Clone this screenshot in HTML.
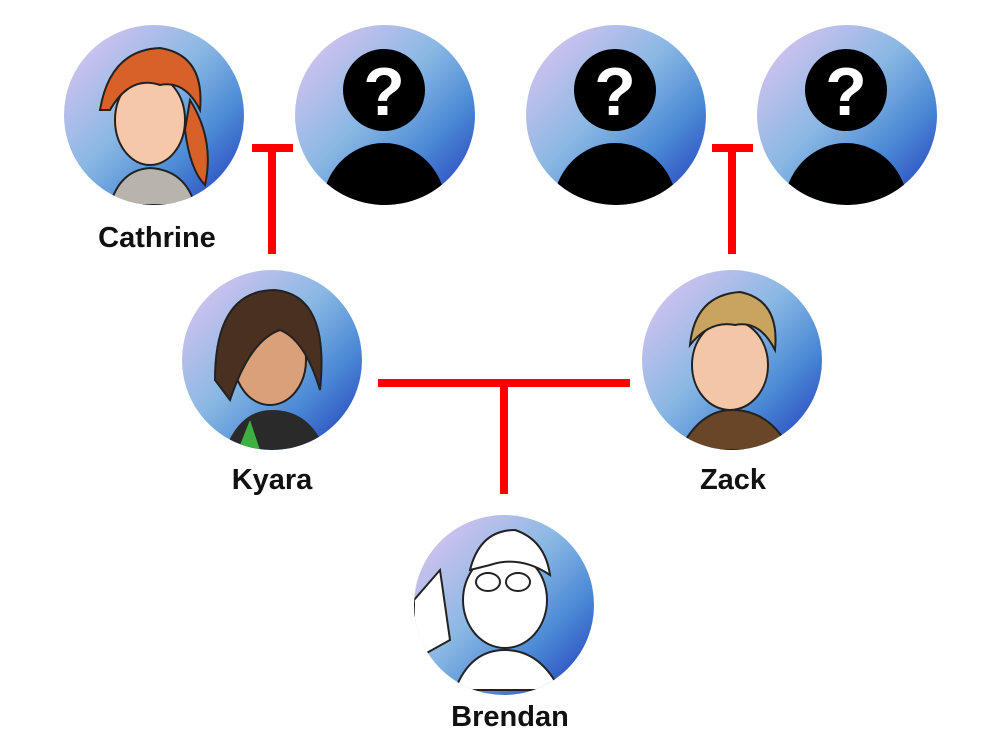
<!DOCTYPE html>
<html><head><style>
html,body{margin:0;padding:0;background:#fff;width:1000px;height:750px;overflow:hidden}
</style></head><body>
<svg width="1000" height="750" viewBox="0 0 1000 750" xmlns="http://www.w3.org/2000/svg">
<defs>
<linearGradient id="g" x1="0" y1="0" x2="1" y2="1">
<stop offset="0.05" stop-color="#dcc4f0"/>
<stop offset="0.45" stop-color="#8ab8e4"/>
<stop offset="0.7" stop-color="#4c8ad6"/>
<stop offset="1" stop-color="#1e36b8"/>
</linearGradient>
<clipPath id="c1"><circle cx="154" cy="115" r="90"/></clipPath>
<clipPath id="c2"><circle cx="385" cy="115" r="90"/></clipPath>
<clipPath id="c3"><circle cx="616" cy="115" r="90"/></clipPath>
<clipPath id="c4"><circle cx="847" cy="115" r="90"/></clipPath>
<clipPath id="c5"><circle cx="272" cy="360" r="90"/></clipPath>
<clipPath id="c6"><circle cx="732" cy="360" r="90"/></clipPath>
<clipPath id="c7"><circle cx="504" cy="605" r="90"/></clipPath>
</defs>
<g fill="#ff0000">
<rect x="252" y="144" width="41" height="8"/><rect x="268" y="144" width="8" height="110"/>
<rect x="712" y="144" width="41" height="8"/><rect x="728" y="144" width="8" height="110"/>
<rect x="378" y="379" width="252" height="8"/><rect x="500" y="379" width="8" height="115"/>
</g>
<g fill="url(#g)">
<circle cx="154" cy="115" r="90"/><circle cx="385" cy="115" r="90"/>
<circle cx="616" cy="115" r="90"/><circle cx="847" cy="115" r="90"/>
<circle cx="272" cy="360" r="90"/><circle cx="732" cy="360" r="90"/>
<circle cx="504" cy="605" r="90"/>
</g>
<g clip-path="url(#c2)"><circle cx="384" cy="90" r="41"/><ellipse cx="384" cy="208" rx="62" ry="65"/></g>
<g clip-path="url(#c3)"><circle cx="615" cy="90" r="41"/><ellipse cx="615" cy="208" rx="62" ry="65"/></g>
<g clip-path="url(#c4)"><circle cx="846" cy="90" r="41"/><ellipse cx="846" cy="208" rx="62" ry="65"/></g>
<g font-family="Liberation Sans, sans-serif" font-weight="bold" font-size="68" fill="#fff" text-anchor="middle">
<text x="384" y="115">?</text><text x="615" y="115">?</text><text x="846" y="115">?</text>
</g>
<g clip-path="url(#c1)">
<path d="M110 205 Q120 170 150 168 Q185 170 195 205Z" fill="#b8b4ac" stroke="#222" stroke-width="2"/>
<ellipse cx="150" cy="120" rx="35" ry="45" fill="#f4c8a8" stroke="#222" stroke-width="2"/>
<path d="M100 110 Q110 50 160 48 Q205 55 200 110 Q185 80 160 85 Q130 75 110 110Z" fill="#d8612a" stroke="#222" stroke-width="2"/>
<path d="M190 100 Q215 140 205 185 Q190 170 185 130Z" fill="#d8612a" stroke="#222" stroke-width="2"/>
</g>
<g clip-path="url(#c5)">
<path d="M225 450 Q240 410 272 410 Q310 410 325 450Z" fill="#2a2a2a"/>
<path d="M240 445 L250 420 L260 450Z" fill="#3cb040"/>
<ellipse cx="270" cy="360" rx="36" ry="45" fill="#d9a07a" stroke="#222" stroke-width="2"/>
<path d="M215 380 Q215 290 275 290 Q330 295 320 390 Q305 340 280 330 Q250 340 230 400Z" fill="#4a3020" stroke="#222" stroke-width="2"/>
</g>
<g clip-path="url(#c6)">
<path d="M680 450 Q700 410 732 410 Q770 410 790 450Z" fill="#6a4628" stroke="#222" stroke-width="2"/>
<ellipse cx="730" cy="365" rx="38" ry="45" fill="#f2c6a6" stroke="#222" stroke-width="2"/>
<path d="M690 345 Q695 295 740 292 Q780 300 775 350 Q760 320 735 325 Q710 320 690 345Z" fill="#c8a460" stroke="#222" stroke-width="2"/>
</g>
<g clip-path="url(#c7)">
<path d="M455 690 Q470 650 505 650 Q540 650 560 690Z" fill="#fff" stroke="#222" stroke-width="2"/>
<ellipse cx="505" cy="600" rx="42" ry="48" fill="#fff" stroke="#222" stroke-width="2"/>
<path d="M470 570 Q480 530 515 530 Q545 540 550 575 Q520 555 490 565Z" fill="#fff" stroke="#222" stroke-width="2"/>
<ellipse cx="488" cy="582" rx="12" ry="9" fill="none" stroke="#222" stroke-width="2"/>
<ellipse cx="518" cy="582" rx="12" ry="9" fill="none" stroke="#222" stroke-width="2"/>
<path d="M414 600 L440 570 L450 640 L414 660Z" fill="#fff" stroke="#222" stroke-width="2"/>
</g>
<g font-family="Liberation Sans, sans-serif" font-weight="bold" font-size="29" fill="#111" text-anchor="middle">
<text x="157" y="247">Cathrine</text>
<text x="272" y="489">Kyara</text>
<text x="733" y="489">Zack</text>
<text x="510" y="726">Brendan</text>
</g>
</svg>
</body></html>
